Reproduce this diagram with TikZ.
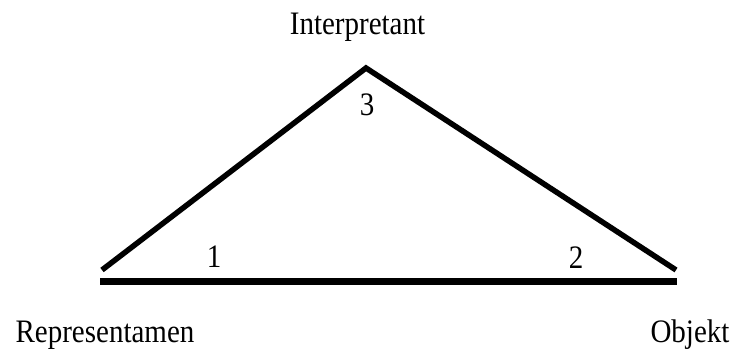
\documentclass[tikz,border=0pt]{standalone}
\usepackage{fontspec}
\usepackage{graphicx}
\setmainfont{Liberation Serif}
\newcommand{\tallt}[1]{\scalebox{1}[1.13]{#1}}
\begin{document}
\begin{tikzpicture}[x=1pt,y=-1pt,
  lbl/.style={anchor=base,inner sep=0pt,font=\fontsize{29}{32}\selectfont},
  side/.style={line width=5.5pt},
  basel/.style={line width=7pt,line cap=butt}]
\useasboundingbox (0,0) rectangle (738,353);
\coordinate (A) at (366,68);
\coordinate (L) at (102,270);
\coordinate (R) at (676,270);
\coordinate (BL) at (100,281.5);
\coordinate (BR) at (677,281.5);
\draw[side] (L) -- (A) -- (R);
\draw[basel] (BL) -- (BR);
\node[lbl] (interp) at (357.5,35) {\tallt{Interpretant}};
\node[lbl] (repr) at (105,342) {\tallt{Representamen}};
\node[lbl] (obj) at (690,342) {\tallt{Objekt}};
\node[lbl] (n1) at (214,267) {\tallt{1}};
\node[lbl] (n2) at (576,268) {\tallt{2}};
\node[lbl] (n3) at (367,115) {\tallt{3}};
\end{tikzpicture}
\end{document}
